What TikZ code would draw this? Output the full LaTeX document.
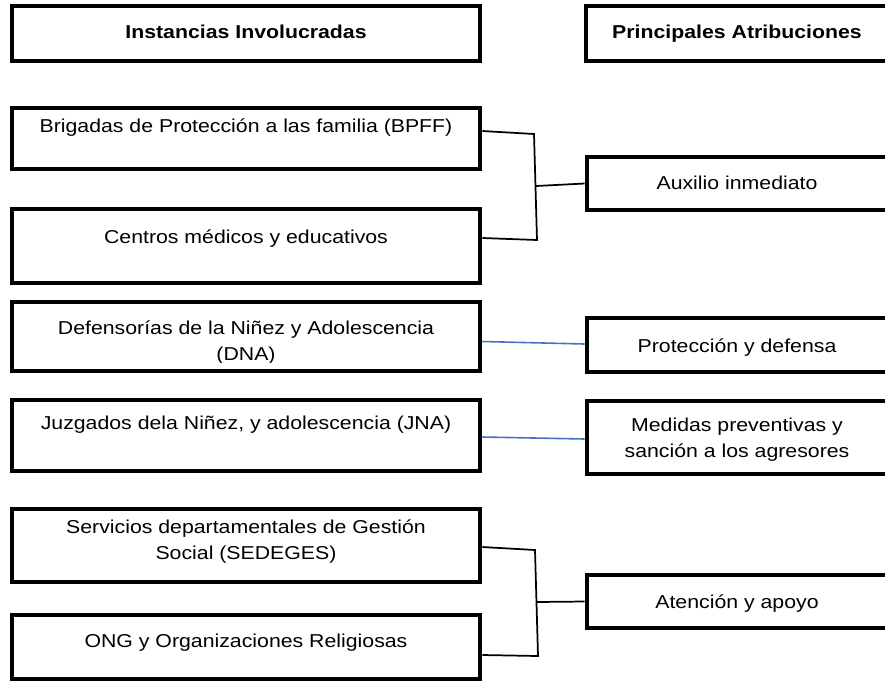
\documentclass[tikz,border=0pt]{standalone}
\usepackage{fontspec}
\setmainfont{Liberation Sans}[FakeStretch=1.14]
\usetikzlibrary{calc,fit}
\definecolor{azulenlace}{RGB}{68,114,196}

\begin{document}
\begin{tikzpicture}[x=0.75pt, y=-0.75pt,
    caja/.style={draw, line width=3.5pt, inner sep=0pt},
    texto/.style={font=\fontsize{14}{19.5}\selectfont, align=center, anchor=base, inner sep=0pt},
    enlace/.style={line width=1.3pt},
    enlaceazul/.style={line width=1.2pt, color=azulenlace}]
			%%%%% START %%%%%
			
			\useasboundingbox (0,0) rectangle (885,683);
			
			% cabeceras
			\node[caja, fit={(12,6) (480,61)}] (inst) {};
			\node[caja, fit={(586,6) (889,61)}] (atrib) {};
			\node[texto] (inst-t) at (246,38) {\bfseries Instancias Involucradas};
			\node[texto] (atrib-t) at (737,38) {\bfseries Principales Atribuciones};
			
			% textos de las instancias (antes de los marcos)
			\node[texto] (bpff-t) at (246,132) {Brigadas de Protección a las familia (BPFF)};
			\node[texto] (centros-t) at (246,243) {Centros médicos y educativos};
			\begin{scope}
				\clip (12,302) rectangle (480,362);
				\node[texto] (dna-t) at (246,360) {Defensorías de la Niñez y Adolescencia\\(DNA)};
			\end{scope}
			\node[texto] (jna-t) at (246,429) {Juzgados dela Niñez, y adolescencia (JNA)};
			\node[texto] (sedeges-t) at (246,559) {Servicios departamentales de Gestión\\Social (SEDEGES)};
			\node[texto] (ong-t) at (246,647) {ONG y Organizaciones Religiosas};
			
			% marcos de las instancias
			\node[caja, fit={(12,108) (480,169)}] (bpff) {};
			\node[caja, fit={(12,209) (480,283)}] (centros) {};
			\node[caja, fit={(12,302) (480,371)}] (dna) {};
			\node[caja, fit={(12,400) (480,471)}] (jna) {};
			\node[caja, fit={(12,509) (480,582)}] (sedeges) {};
			\node[caja, fit={(12,615) (480,679)}] (ong) {};
			
			% atribuciones
			\node[caja, fit={(587,157) (889,210)}] (auxilio) {};
			\node[caja, fit={(587,318) (889,372)}] (proteccion) {};
			\node[caja, fit={(587,401) (889,474)}] (medidas) {};
			\node[caja, fit={(587,575) (889,628)}] (atencion) {};
			\node[texto] (auxilio-t) at (737,189) {Auxilio inmediato};
			\node[texto] (proteccion-t) at (737,352) {Protección y defensa};
			\node[texto] (medidas-t) at (737,457) {Medidas preventivas y\\sanción a los agresores};
			\node[texto] (atencion-t) at (737,608) {Atención y apoyo};
			
			% llaves
			\coordinate (k1) at (534,134);
			\coordinate (k2) at (537,240);
			\coordinate (kc) at (536,186);
			\draw[enlace] ($(bpff.east)+(0,-7.5)$) -- (k1) -- (k2) -- ($(centros.east)+(0,-8)$);
			\draw[enlace] (kc) -- (auxilio.west);
			
			\coordinate (k3) at (535,550);
			\coordinate (k4) at (538,656);
			\coordinate (kd) at (537,602);
			\draw[enlace] ($(sedeges.east)+(0,1.5)$) -- (k3) -- (k4) -- ($(ong.east)+(0,8)$);
			\draw[enlace] (kd) -- (atencion.west);
			
			\draw[enlaceazul] ($(dna.east)+(0,5)$) -- ($(proteccion.west)+(0,-1)$);
			\draw[enlaceazul] ($(jna.east)+(0,1.5)$) -- ($(medidas.west)+(0,1.5)$);
			
			%%%%% END %%%%%
\end{tikzpicture}
\end{document}
